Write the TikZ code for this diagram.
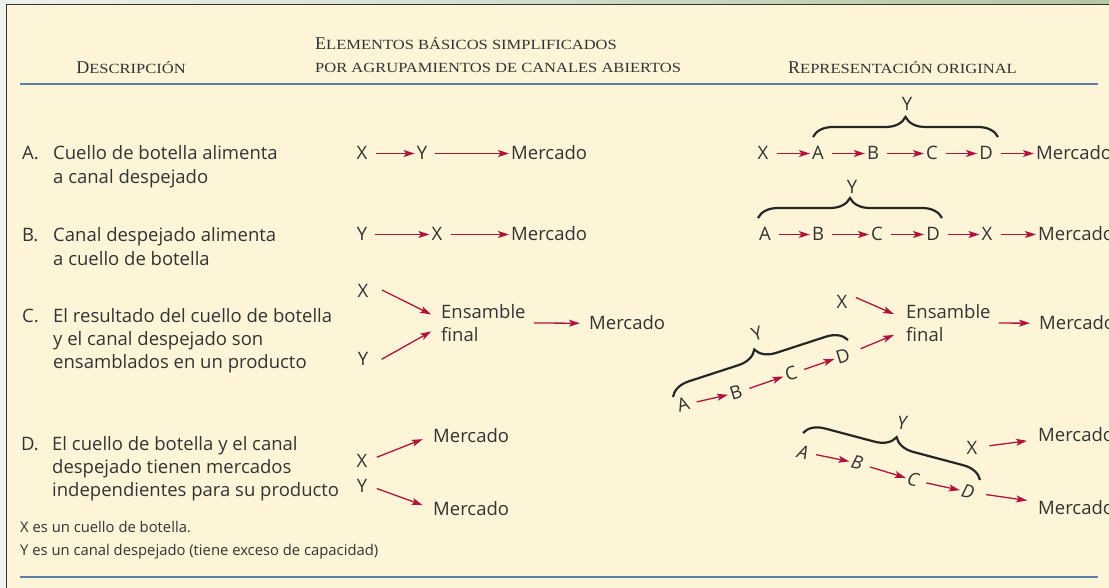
\documentclass[tikz,border=0pt]{standalone}
\usepackage{fontspec}
\setmainfont{Open Sans}
\newfontfamily\headfont{Liberation Serif}
\newfontfamily\headscfont[FakeStretch=1.18]{Liberation Serif}
\usetikzlibrary{arrows.meta, decorations.pathreplacing}

\definecolor{panel}{HTML}{FEF4D8}
\definecolor{rulecol}{HTML}{5B7FA6}
\definecolor{flowred}{HTML}{B0143C}
\definecolor{ink}{HTML}{333333}
\definecolor{topband}{HTML}{B5C6A3}
\definecolor{sideband}{HTML}{EEF1EC}

% header in small capitals
\newcommand{\hsc}[2]{{\headfont\fontsize{18}{18}\selectfont #1}{\headscfont\fontsize{14}{14}\selectfont #2}}

\begin{document}
\begin{tikzpicture}[
    x=1pt, y=-1pt,
    >={Stealth[length=11pt, width=7pt, inset=2.5pt]},
    font=\fontsize{18.5}{23.3}\selectfont,
    text=ink,
    lbl/.style={inner sep=1pt, text height=13pt, text depth=0pt},
    flow/.style={->, draw=flowred, line width=1.3pt, shorten <=7pt, shorten >=1pt},
    flowgap/.style={flow, shorten <=11pt, shorten >=10pt},
    ybrace/.style={decorate, decoration={brace, amplitude=20pt}, line width=2.2pt, draw=black!85},
    note/.style={font=\fontsize{14.8}{23}\selectfont, anchor=base west, inner sep=0pt}
]
\useasboundingbox (0,0) rectangle (1109,588);

% frame
\shade[left color=sideband, right color=topband] (0,0) rectangle (1109,4);
\fill[sideband] (0,0) rectangle (6,588);
\fill[panel] (7,5) rectangle (1109,588);
\draw[black!80, line width=1.6pt] (6.5,588) -- (6.5,4.5) -- (1109,4.5);

% header
\node[anchor=base, inner sep=0pt] (hDesc) at (131,74) {\hsc{D}{ESCRIPCIÓN}};
\node[anchor=base west, inner sep=0pt] (hElem) at (315,50) {\hsc{E}{LEMENTOS BÁSICOS SIMPLIFICADOS}};
\node[anchor=base west, inner sep=0pt] (hAgrup) at (315,73) {\headscfont\fontsize{14}{14}\selectfont POR AGRUPAMIENTOS DE CANALES ABIERTOS};
\node[anchor=base west, inner sep=0pt] (hRep) at (788,74) {\hsc{R}{EPRESENTACIÓN ORIGINAL}};
\draw[rulecol, line width=1.5pt] (20,84) -- (1098,84);
\draw[rulecol, line width=1.5pt] (20,577) -- (1098,577);

% descriptions (base = last line)
\node[anchor=base west, inner sep=0pt] (lA) at (22,160) {A.};
\node[anchor=base west, inner sep=0pt, align=left] (dA) at (53,183.3) {Cuello de botella alimenta\\a canal despejado};
\node[anchor=base west, inner sep=0pt] (lB) at (22,242) {B.};
\node[anchor=base west, inner sep=0pt, align=left] (dB) at (53,265.3) {Canal despejado alimenta\\a cuello de botella};
\node[anchor=base west, inner sep=0pt] (lC) at (22,322) {C.};
\node[anchor=base west, inner sep=0pt, align=left] (dC) at (53,368.6) {El resultado del cuello de botella\\y el canal despejado son\\ensamblados en un producto};
\node[anchor=base west, inner sep=0pt] (lD) at (21,450) {D.};
\node[anchor=base west, inner sep=0pt, align=left] (dD) at (52,496.6) {El cuello de botella y el canal\\despejado tienen mercados\\independientes para su producto};

% notes
\node[note] (nX) at (20,532) {X es un cuello de botella.};
\node[note] (nY) at (20,555) {Y es un canal despejado (tiene exceso de capacidad)};

% row A, simplified
\node[lbl, anchor=base] (sAx) at (362,160) {X};
\node[lbl, anchor=base] (sAy) at (422,160) {Y};
\node[lbl, anchor=base west] (sAm) at (510,160) {Mercado};
\draw[flow] (sAx) -- (sAy);
\draw[flow] (sAy) -- (sAm);

% row B, simplified
\node[lbl, anchor=base] (sBy) at (362,241) {Y};
\node[lbl, anchor=base] (sBx) at (437,241) {X};
\node[lbl, anchor=base west] (sBm) at (510,241) {Mercado};
\draw[flow] (sBy) -- (sBx);
\draw[flow] (sBx) -- (sBm);

% row C, simplified
\node[lbl, anchor=base] (sCx) at (363,298) {X};
\node[lbl, anchor=base] (sCy) at (363,365) {Y};
\node[anchor=base west, inner sep=1pt, align=left] (sCe) at (440,341.3) {Ensamble\\final};
\node[lbl, anchor=base west] (sCm) at (588,330) {Mercado};
\draw[flowgap, shorten <=14pt] (sCx.north east) -- (sCe.175);
\draw[flowgap, shorten <=14pt] (sCy.south east) -- (sCe.185);
\draw[flow, shorten >=8pt] (sCe) -- (sCm);

% row D, simplified
\node[lbl, anchor=base west] (sDm) at (432,442) {Mercado};
\node[lbl, anchor=base] (sDx) at (362,467) {X};
\node[lbl, anchor=base] (sDy) at (362,492) {Y};
\node[lbl, anchor=base west] (sDn) at (432,515) {Mercado};
\draw[flowgap, shorten <=9pt] (sDx.east) -- (sDm.west);
\draw[flowgap, shorten <=9pt] (sDy.east) -- (sDn.west);

% row A, original
\node[lbl, anchor=base] (oAx) at (763,160) {X};
\node[lbl, anchor=base] (oAa) at (818,160) {A};
\node[lbl, anchor=base] (oAb) at (873,160) {B};
\node[lbl, anchor=base] (oAc) at (932,160) {C};
\node[lbl, anchor=base] (oAd) at (986,160) {D};
\node[lbl, anchor=base west] (oAm) at (1035,160) {Mercado};
\foreach \a/\b in {oAx/oAa, oAa/oAb, oAb/oAc, oAc/oAd, oAd/oAm}
    \draw[flow] (\a) -- (\b);
\coordinate (oAl) at (813,137);
\coordinate (oAr) at (998,137);
\draw[ybrace] (oAl) -- (oAr);
\node[lbl] (oAy) at (907,104) {Y};

% row B, original
\node[lbl, anchor=base] (oBa) at (765,241) {A};
\node[lbl, anchor=base] (oBb) at (818,241) {B};
\node[lbl, anchor=base] (oBc) at (877,241) {C};
\node[lbl, anchor=base] (oBd) at (933,241) {D};
\node[lbl, anchor=base] (oBx) at (987,241) {X};
\node[lbl, anchor=base west] (oBm) at (1037,241) {Mercado};
\foreach \a/\b in {oBa/oBb, oBb/oBc, oBc/oBd, oBd/oBx, oBx/oBm}
    \draw[flow] (\a) -- (\b);
\coordinate (oBl) at (758,218);
\coordinate (oBr) at (942,218);
\draw[ybrace] (oBl) -- (oBr);
\node[lbl] (oBy) at (852,187) {Y};

% row C, original
\node[lbl] (oCx) at (842,302) {X};
\node[anchor=base west, inner sep=1pt, align=left] (oCe) at (905,341.3) {Ensamble\\final};
\node[lbl, anchor=base west] (oCm) at (1038,330) {Mercado};
\node[lbl, rotate=17] (oCa) at (683,405) {A};
\node[lbl, rotate=17] (oCb) at (736,393) {B};
\node[lbl, rotate=17] (oCc) at (791,374) {C};
\node[lbl, rotate=17] (oCd) at (843,356) {D};
\foreach \a/\b in {oCa/oCb, oCb/oCc, oCc/oCd}
    \draw[flow] (\a) -- (\b);
\draw[flowgap, shorten >=12pt] (oCd) -- (oCe.190);
\draw[flowgap, shorten <=8pt, shorten >=12pt] (oCx.north east) -- (oCe.175);
\draw[flow, shorten >=8pt] (oCe) -- (oCm);
\coordinate (oCl) at (673,397);
\coordinate (oCr) at (848,340);
\draw[ybrace] (oCl) -- (oCr);
\node[lbl, rotate=17] (oCy) at (757,334) {Y};

% row D, original
\node[lbl, rotate=-14] (oDa) at (803,452) {\itshape A};
\node[lbl, rotate=-14] (oDb) at (857,463) {\itshape B};
\node[lbl, rotate=-14] (oDc) at (913,480) {\itshape C};
\node[lbl, rotate=-14] (oDd) at (968,492) {\itshape D};
\node[lbl] (oDx) at (972,448) {X};
\node[lbl, anchor=base west] (oDm) at (1037,441) {Mercado};
\node[lbl, anchor=base west] (oDn) at (1037,514) {Mercado};
\foreach \a/\b in {oDa/oDb, oDb/oDc, oDc/oDd}
    \draw[flow] (\a) -- (\b);
\draw[flowgap] (oDd) -- (oDn);
\draw[flowgap] (oDx) -- (oDm);
\coordinate (oDl) at (803,433);
\coordinate (oDr) at (980,480);
\draw[ybrace] (oDl) -- (oDr);
\node[lbl] (oDy) at (902,423) {\itshape Y};

\end{tikzpicture}
\end{document}
